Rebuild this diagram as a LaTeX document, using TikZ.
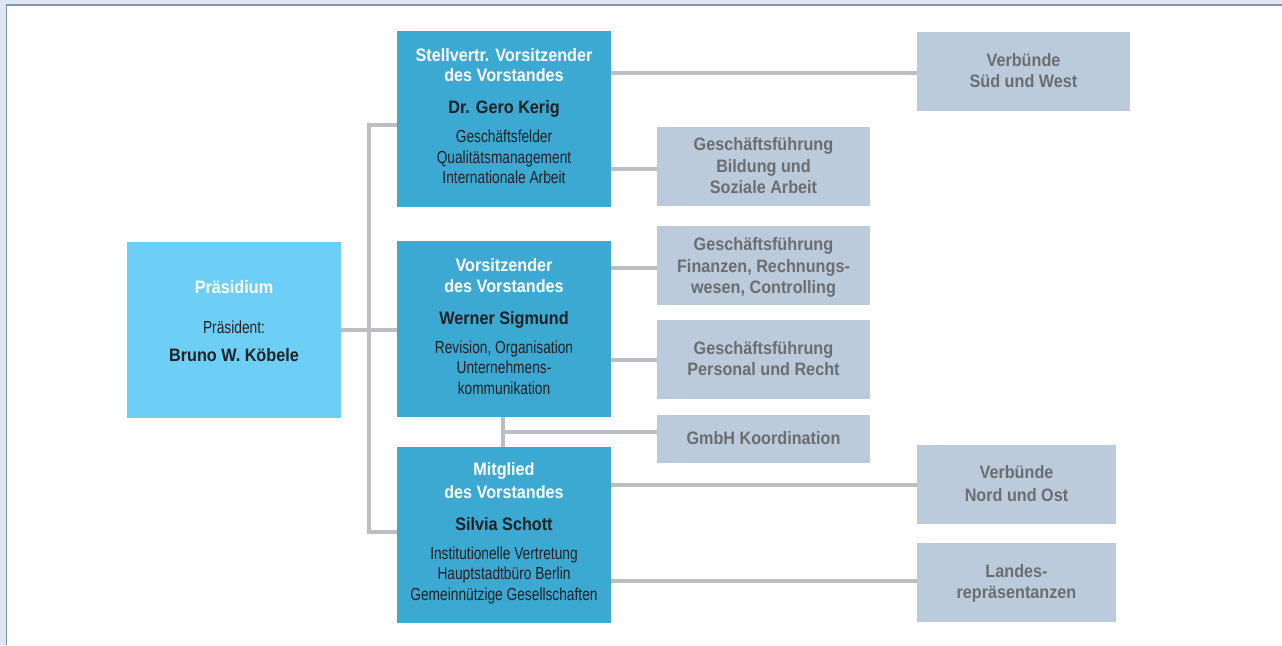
\documentclass[tikz,border=0pt]{standalone}
\usepackage{fontspec}
\setmainfont{Liberation Sans}[FakeStretch=0.79]
\newfontfamily\headfont{Liberation Sans}[FakeStretch=0.9]

\definecolor{pagebg}{HTML}{DCE6F4}
\definecolor{pageedge}{HTML}{7D97AC}
\definecolor{praesblue}{HTML}{6DCFF6}
\definecolor{boardblue}{HTML}{3BA9D1}
\definecolor{unitgrey}{HTML}{BCCBDC}
\definecolor{linegrey}{HTML}{BDBEC3}
\definecolor{textgrey}{HTML}{6B6D70}
\definecolor{textdark}{HTML}{1F2124}

\newcommand{\hdline}[1]{{\headfont\bfseries\fontsize{9}{10.25}\selectfont\color{white}#1}}
\newcommand{\nmline}[1]{{\headfont\bfseries\fontsize{9}{10.25}\selectfont#1}}

\begin{document}
\begin{tikzpicture}[x=0.5pt, y=-0.5pt,
	board/.style={fill=boardblue, inner sep=0pt, minimum width=107pt, minimum height=88pt,
		align=center, text=textdark, font=\fontsize{8.7}{10.25}\selectfont},
	unit/.style={fill=unitgrey, inner sep=0pt, minimum width=106.5pt, minimum height=39.5pt,
		align=center, text=textgrey, text depth=1pt,
		font=\headfont\bfseries\fontsize{9}{10.75}\selectfont},
	link/.style={draw=linegrey, line width=2pt}]

\useasboundingbox (0,0) rectangle (1282,645);

% page frame
\fill[pagebg] (0,0) rectangle (1282,645);
\fill[white] (7.2,5.9) rectangle (1282,645);
\draw[pageedge, line width=0.8pt] (6.5,645) -- (6.5,5) -- (1282,5);

% Praesidium and Vorstand
\node[board, fill=praesblue, minimum height=88pt, text depth=9.5pt] (praes) at (234,330)
	{\hdline{Präsidium}\\[9.75pt]Präsident:\\[3.75pt]\nmline{Bruno W. Köbele}};

\node[board, text depth=3pt] (kerig) at (504,119)
	{\hdline{Stellvertr. Vorsitzender}\\\hdline{des Vorstandes}\\[5.75pt]\nmline{Dr. Gero Kerig}\\[4.25pt]%
	Geschäftsfelder\\Qualitätsmanagement\\Internationale Arbeit};

\node[board, text depth=2.5pt] (sigmund) at (504,329)
	{\hdline{Vorsitzender}\\\hdline{des Vorstandes}\\[5.75pt]\nmline{Werner Sigmund}\\[4.25pt]%
	Revision, Organisation\\Unternehmens-\\kommunikation};

\node[board, text depth=4pt] (schott) at (504,535)
	{\hdline{Mitglied}\\[1.25pt]\hdline{des Vorstandes}\\[5.75pt]\nmline{Silvia Schott}\\[4.25pt]%
	Institutionelle Vertretung\\Hauptstadtbüro Berlin\\Gemeinnützige Gesellschaften};

% Geschaeftsfuehrungen und Verbuende
\node[unit] (sued) at (1023.5,71.5) {Verbünde\\Süd und West};
\node[unit] (bildung) at (763.5,166.5) {Geschäftsführung\\Bildung und\\Soziale Arbeit};
\node[unit, text depth=0pt] (finanzen) at (763.5,265.5) {Geschäftsführung\\Finanzen, Rechnungs-\\wesen, Controlling};
\node[unit] (personal) at (763.5,359.5) {Geschäftsführung\\Personal und Recht};
\node[unit, minimum height=24pt] (gmbh) at (763.5,439) {GmbH Koordination};
\node[unit, minimum width=99.5pt] (nord) at (1016.5,484.5) {Verbünde\\[0.75pt]Nord und Ost};
\node[unit, minimum width=99.5pt] (landes) at (1016.5,582.5) {Landes-\\repräsentanzen};

% connectors
\coordinate (bktop) at (369,124.5);
\coordinate (bkbot) at (369,531.5);
\coordinate (gmbhjoint) at (503,432);

\draw[link] (praes.east) -- (sigmund.west |- praes.east);
\draw[link] (kerig.west |- bktop) -- (bktop) -- (bkbot) -- (schott.west |- bkbot);

\draw[link] (kerig.east |- 0,73) -- (sued.west |- 0,73);
\draw[link] (kerig.east |- 0,169) -- (bildung.west |- 0,169);
\draw[link] (sigmund.east |- 0,268) -- (finanzen.west |- 0,268);
\draw[link] (sigmund.east |- personal) -- (personal.west);
\draw[link] (sigmund.south -| gmbhjoint) -- (schott.north -| gmbhjoint);
\draw[link] (gmbhjoint) -- (gmbh.west |- gmbhjoint);
\draw[link] (schott.east |- nord) -- (nord.west);
\draw[link] (schott.east |- 0,580.5) -- (landes.west |- 0,580.5);

\end{tikzpicture}
\end{document}
